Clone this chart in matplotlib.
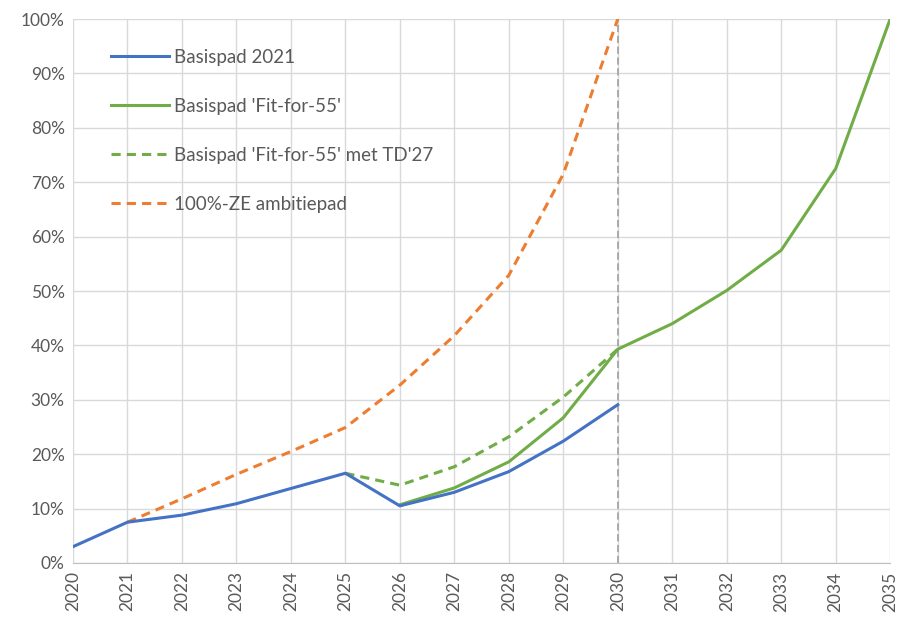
import matplotlib.pyplot as plt
from matplotlib.ticker import PercentFormatter

years = list(range(2020, 2036))

# aandeel (%) per pad
basispad_2021 = [3.0, 7.5, 8.8, 10.9, 13.7, 16.5, 10.5, 13.0, 16.8, 22.4, 29.1]
fit_for_55_years = list(range(2026, 2036))
fit_for_55 = [10.7, 13.8, 18.6, 26.7, 39.3, 44.0, 50.1, 57.5, 72.5, 100.0]
td27_years = list(range(2025, 2031))
fit_for_55_td27 = [16.5, 14.3, 17.7, 23.2, 30.5, 39.3]
ze_years = list(range(2021, 2031))
ze_ambitie = [7.5, 11.8, 16.3, 20.5, 24.9, 32.7, 41.8, 52.9, 71.5, 100.0]

blue = "#4472C4"
green = "#70AD47"
orange = "#ED7D31"
grey_text = "#595959"

plt.rcParams["font.family"] = ["Lato", "DejaVu Sans"]

fig = plt.figure(figsize=(9.01, 6.21), dpi=100)
ax = fig.add_axes([0.081, 0.0934, 0.907, 0.876])

ax.plot(years[:11], basispad_2021, color=blue, lw=2.2, label="Basispad 2021", zorder=4)
ax.plot(fit_for_55_years, fit_for_55, color=green, lw=2.2, label="Basispad 'Fit-for-55'", zorder=3)
ax.plot(td27_years, fit_for_55_td27, color=green, lw=2.2, ls=(0, (3, 2)),
        label="Basispad 'Fit-for-55' met TD'27", zorder=3)
ax.plot(ze_years, ze_ambitie, color=orange, lw=2.2, ls=(0, (3, 2)),
        label="100%-ZE ambitiepad", zorder=3)

ax.axvline(2030, color="#A6A6A6", lw=1.3, ls=(0, (4, 2)), zorder=2)

ax.set_xlim(2020, 2035)
ax.set_ylim(0, 100)
ax.set_xticks(years)
ax.set_xticklabels([str(y) for y in years], rotation=90)
ax.set_yticks(range(0, 101, 10))
ax.yaxis.set_major_formatter(PercentFormatter(decimals=0))
ax.grid(True, color="#D9D9D9", lw=1.0)
ax.set_axisbelow(True)

for side in ["top", "right", "left"]:
    ax.spines[side].set_visible(False)
ax.spines["bottom"].set_color("#BFBFBF")
ax.tick_params(axis="both", length=0, labelsize=12.5, colors=grey_text, pad=6)

leg = ax.legend(loc="upper left", bbox_to_anchor=(0.026, 0.976), frameon=False,
                fontsize=13.5, handlelength=3.1, labelspacing=1.7, handletextpad=0.27)
for t in leg.get_texts():
    t.set_color(grey_text)

fig.savefig("out.png", dpi=100)
plt.close(fig)
